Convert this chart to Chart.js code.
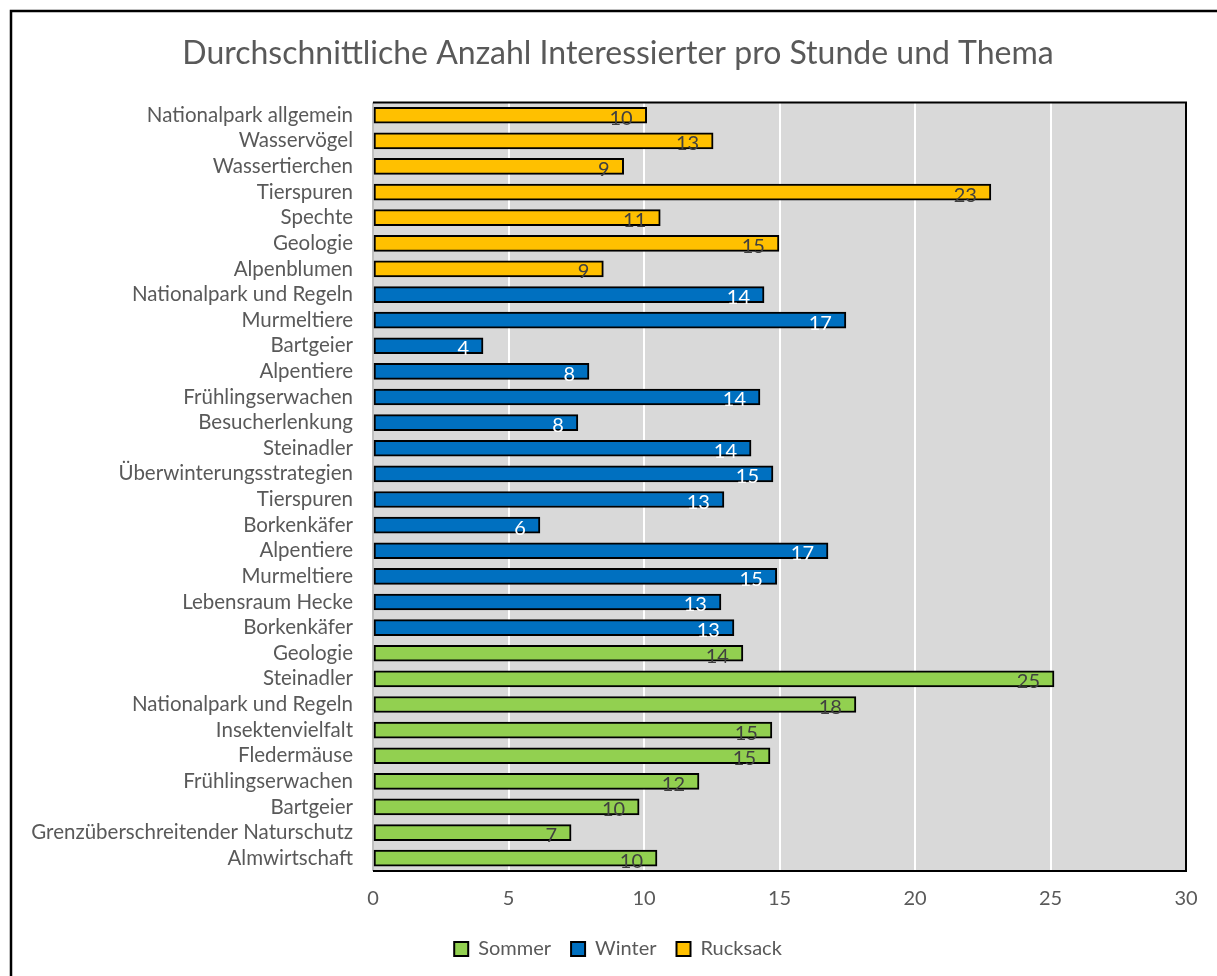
<!DOCTYPE html>
<html>
<head>
<meta charset="utf-8">
<script src="https://cdn.jsdelivr.net/npm/chart.js@4"></script>
<style>
  html, body { margin: 0; padding: 0; background: #ffffff; overflow: hidden; }
  #wrap { position: absolute; left: 0; top: 0; width: 1217px; height: 976px; }
</style>
</head>
<body>
<div id="wrap"><canvas id="topicChart"></canvas></div>
<script>
// topics per series, top to bottom as in the chart
var rucksackTopics = ['Nationalpark allgemein', 'Wasservögel', 'Wassertierchen', 'Tierspuren', 'Spechte', 'Geologie', 'Alpenblumen'];
var rucksackValues = [10.1, 12.55, 9.25, 22.8, 10.6, 14.98, 8.5];

var winterTopics = ['Nationalpark und Regeln', 'Murmeltiere', 'Bartgeier', 'Alpentiere', 'Frühlingserwachen', 'Besucherlenkung', 'Steinadler', 'Überwinterungsstrategien', 'Tierspuren', 'Borkenkäfer', 'Alpentiere', 'Murmeltiere', 'Lebensraum Hecke', 'Borkenkäfer'];
var winterValues = [14.43, 17.45, 4.06, 7.97, 14.28, 7.56, 13.95, 14.76, 12.95, 6.16, 16.79, 14.9, 12.84, 13.32];

var sommerTopics = ['Geologie', 'Steinadler', 'Nationalpark und Regeln', 'Insektenvielfalt', 'Fledermäuse', 'Frühlingserwachen', 'Bartgeier', 'Grenzüberschreitender Naturschutz', 'Almwirtschaft'];
var sommerValues = [13.65, 25.13, 17.82, 14.72, 14.65, 12.03, 9.82, 7.31, 10.48];

var xTicks = [0, 5, 10, 15, 20, 25, 30];

var categories = rucksackTopics.concat(winterTopics, sommerTopics);

function pad(values, before, after) {
    var out = [];
    for (var i = 0; i < before; i++) out.push(null);
    out = out.concat(values);
    for (var j = 0; j < after; j++) out.push(null);
    return out;
}

var nR = rucksackTopics.length, nW = winterTopics.length, nS = sommerTopics.length;
var textGray = '#595959';
var fontFamily = 'Lato, "Open Sans", sans-serif';

var datasets = [
    { label: 'Sommer', data: pad(sommerValues, nR + nW, 0), backgroundColor: '#92d050', labelColor: '#404040' },
    { label: 'Winter', data: pad(winterValues, nR, nS), backgroundColor: '#0070c0', labelColor: '#ffffff' },
    { label: 'Rucksack', data: pad(rucksackValues, 0, nW + nS), backgroundColor: '#ffc000', labelColor: '#404040' }
].map(function (d) {
    d.borderColor = '#000000';
    d.borderWidth = 2;
    d.borderSkipped = false;
    d.barThickness = 16;
    d.grouped = false;
    return d;
});

// gray plot background, frame and plot border
var plotBackground = {
    id: 'plotBackground',
    afterLayout: function (chart) {
        // let the long category labels run into the left padding without being clipped
        chart.scales.y.left = 12;
    },
    beforeDraw: function (chart) {
        var ctx = chart.ctx, a = chart.chartArea;
        ctx.save();
        ctx.fillStyle = '#d9d9d9';
        ctx.fillRect(a.left, a.top, a.right - a.left, a.bottom - a.top);
        ctx.strokeStyle = '#000000';
        ctx.lineWidth = 2.5;
        ctx.strokeRect(11, 11, 1400, 1400);
        ctx.restore();
    },
    beforeDatasetsDraw: function (chart) {
        var ctx = chart.ctx, a = chart.chartArea;
        ctx.save();
        ctx.lineWidth = 2;
        ctx.strokeStyle = '#bfbfbf';
        ctx.beginPath();
        ctx.moveTo(a.left, a.top);
        ctx.lineTo(a.left, a.bottom);
        ctx.stroke();
        ctx.strokeStyle = '#000000';
        ctx.beginPath();
        ctx.moveTo(a.left, a.top);
        ctx.lineTo(a.right, a.top);
        ctx.lineTo(a.right, a.bottom);
        ctx.lineTo(a.left, a.bottom);
        ctx.stroke();
        ctx.restore();
    }
};

// value labels at the inside end of each bar
var barLabels = {
    id: 'barLabels',
    afterDatasetsDraw: function (chart) {
        var ctx = chart.ctx;
        ctx.save();
        ctx.font = '20px ' + fontFamily;
        ctx.textAlign = 'right';
        ctx.textBaseline = 'middle';
        chart.data.datasets.forEach(function (dataset, i) {
            var meta = chart.getDatasetMeta(i);
            ctx.fillStyle = dataset.labelColor;
            meta.data.forEach(function (bar, index) {
                var v = dataset.data[index];
                if (v !== null) {
                    ctx.fillText(Math.round(v), bar.x - 14, bar.y + 3);
                }
            });
        });
        ctx.restore();
    }
};

new Chart(document.getElementById('topicChart').getContext('2d'), {
    type: 'bar',
    data: { labels: categories, datasets: datasets },
    options: {
        indexAxis: 'y',
        responsive: true,
        maintainAspectRatio: false,
        animation: false,
        layout: { padding: { left: 50, right: 31, top: 20, bottom: 7 } },
        scales: {
            x: {
                min: 0,
                max: 30,
                afterBuildTicks: function (scale) {
                    scale.ticks = xTicks.map(function (v) { return { value: v }; });
                },
                afterFit: function (scale) { scale.height = 48; },
                grid: { color: '#ffffff', lineWidth: 2, drawTicks: false },
                border: { display: false },
                ticks: { color: textGray, padding: 16, font: { family: fontFamily, size: 20 } }
            },
            y: {
                afterFit: function (scale) { scale.width = 323; },
                grid: { display: false, drawTicks: false },
                border: { display: false },
                ticks: { color: textGray, padding: 20, autoSkip: false, font: { family: fontFamily, size: 20.5 } }
            }
        },
        plugins: {
            title: {
                display: true,
                text: 'Durchschnittliche Anzahl Interessierter pro Stunde und Thema',
                color: textGray,
                font: { family: fontFamily, size: 32, weight: 'normal' },
                padding: { top: 14, bottom: 30 }
            },
            legend: {
                position: 'bottom',
                labels: {
                    color: textGray,
                    boxWidth: 14,
                    boxHeight: 14,
                    padding: 20,
                    font: { family: fontFamily, size: 20 }
                }
            },
            tooltip: { enabled: false }
        }
    },
    plugins: [plotBackground, barLabels]
});
</script>
</body>
</html>
